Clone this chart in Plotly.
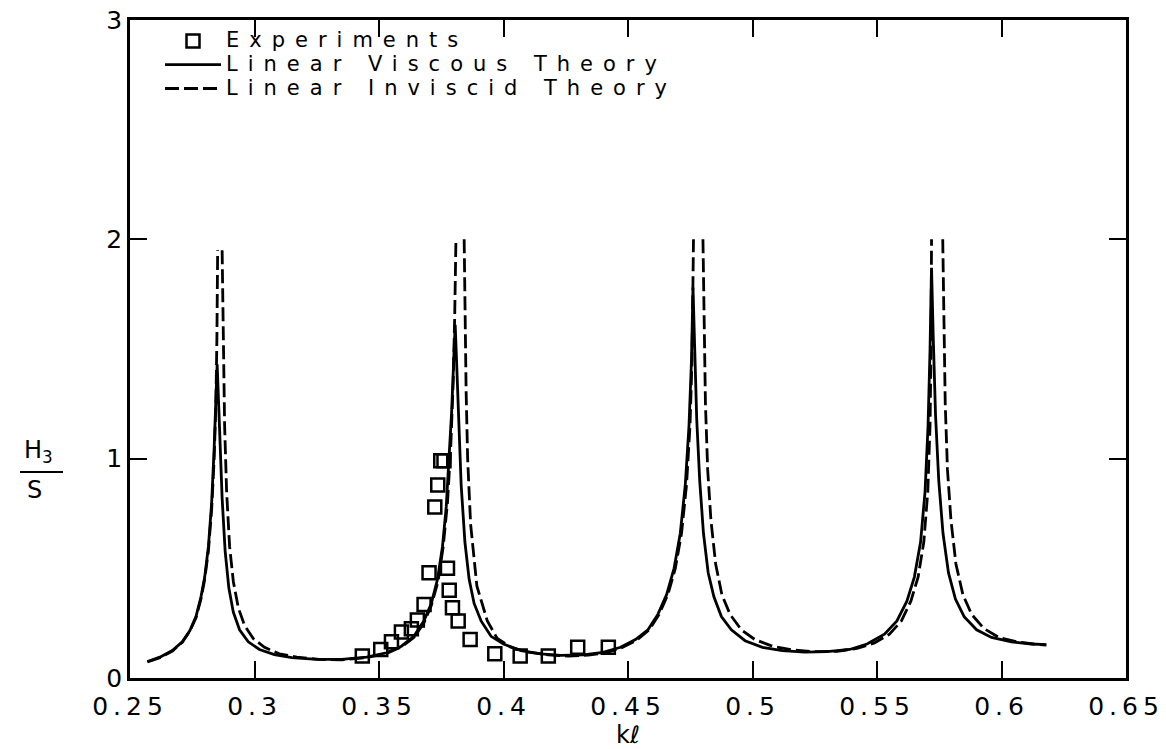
import plotly.graph_objects as go

# Measured response H3/S versus kℓ
exp_k = [0.3433, 0.3507, 0.3550, 0.3590, 0.3630, 0.3654, 0.3681, 0.3701,
         0.3724, 0.3736, 0.3748, 0.3761, 0.3775, 0.3782, 0.3795, 0.3818,
         0.3866, 0.3965, 0.4067, 0.4180, 0.4298, 0.4421]
exp_h = [0.10, 0.13, 0.165, 0.21, 0.225, 0.265, 0.335, 0.48,
         0.78, 0.88, 0.99, 0.99, 0.50, 0.40, 0.32, 0.26,
         0.175, 0.11, 0.10, 0.10, 0.14, 0.14]

# Linear viscous theory
visc_k = [0.2570, 0.2620, 0.2670, 0.2710, 0.2740, 0.2765, 0.2785, 0.2800, 0.2815,
          0.2828, 0.2838, 0.2845, 0.2850, 0.2856, 0.2862, 0.2870, 0.2882, 0.2897,
          0.2915, 0.2940, 0.2975, 0.3020, 0.3080, 0.3150, 0.3250, 0.3350, 0.3450,
          0.3530, 0.3590, 0.3640, 0.3680, 0.3710, 0.3735, 0.3755, 0.3770, 0.3782,
          0.3792, 0.3800, 0.3806, 0.3813, 0.3820, 0.3830, 0.3845, 0.3862, 0.3882,
          0.3910, 0.3950, 0.4000, 0.4070, 0.4150, 0.4230, 0.4320, 0.4400, 0.4470,
          0.4530, 0.4580, 0.4620, 0.4655, 0.4685, 0.4710, 0.4730, 0.4745, 0.4755,
          0.4761, 0.4768, 0.4776, 0.4788, 0.4803, 0.4822, 0.4845, 0.4875, 0.4915,
          0.4970, 0.5040, 0.5120, 0.5210, 0.5300, 0.5390, 0.5460, 0.5530, 0.5580,
          0.5620, 0.5650, 0.5675, 0.5693, 0.5705, 0.5713, 0.5719, 0.5726, 0.5735,
          0.5748, 0.5765, 0.5787, 0.5815, 0.5850, 0.5900, 0.5960, 0.6040, 0.6120,
          0.6180]
visc_h = [0.075, 0.095, 0.125, 0.165, 0.215, 0.28, 0.37, 0.46, 0.60,
          0.80, 1.05, 1.25, 1.43, 1.25, 1.05, 0.82, 0.58, 0.41,
          0.30, 0.22, 0.165, 0.13, 0.107, 0.093, 0.085, 0.085, 0.095,
          0.115, 0.145, 0.19, 0.26, 0.34, 0.45, 0.60, 0.78, 1.00,
          1.22, 1.45, 1.61, 1.40, 1.15, 0.88, 0.62, 0.45, 0.34,
          0.26, 0.19, 0.155, 0.125, 0.11, 0.103, 0.105, 0.117, 0.14,
          0.175, 0.22, 0.29, 0.38, 0.50, 0.66, 0.88, 1.15, 1.45,
          1.78, 1.50, 1.18, 0.90, 0.66, 0.48, 0.37, 0.28, 0.22,
          0.17, 0.14, 0.125, 0.118, 0.12, 0.13, 0.155, 0.20, 0.26,
          0.35, 0.46, 0.62, 0.85, 1.15, 1.50, 1.87, 1.55, 1.20,
          0.90, 0.66, 0.48, 0.36, 0.28, 0.22, 0.185, 0.165, 0.155,
          0.152]

# Linear inviscid theory (branches cut where they leave the plotted band at 2)
invis_k = [0.2570, 0.2620, 0.2670, 0.2710, 0.2740, 0.2765, 0.2785, 0.2800, 0.2815,
           0.2828, 0.2838, 0.2845, 0.2849, 0.2852, None,
           0.2870, 0.2874, 0.2880, 0.2888, 0.2900, 0.2915, 0.2935, 0.2960, 0.2995,
           0.3040, 0.3100, 0.3170, 0.3260, 0.3350, 0.3450, 0.3530, 0.3590, 0.3640,
           0.3680, 0.3710, 0.3737, 0.3758, 0.3775, 0.3788, 0.3798, 0.3804, 0.3809, None,
           0.3842, 0.3845, 0.3850, 0.3856, 0.3868, 0.3893, 0.3935, 0.3975, 0.4030,
           0.4100, 0.4180, 0.4260, 0.4340, 0.4410, 0.4475, 0.4535, 0.4585, 0.4625,
           0.4660, 0.4690, 0.4715, 0.4735, 0.4749, 0.4757, 0.4763, None,
           0.4801, 0.4805, 0.4811, 0.4820, 0.4833, 0.4852, 0.4877, 0.4910, 0.4955,
           0.5010, 0.5080, 0.5160, 0.5250, 0.5340, 0.5420, 0.5490, 0.5550, 0.5598,
           0.5636, 0.5665, 0.5688, 0.5704, 0.5713, 0.5717, 0.5719, None,
           0.5764, 0.5768, 0.5774, 0.5783, 0.5797, 0.5817, 0.5845, 0.5880, 0.5930,
           0.5990, 0.6060, 0.6130, 0.6180]
invis_h = [0.073, 0.093, 0.123, 0.163, 0.213, 0.275, 0.36, 0.45, 0.58,
           0.77, 1.00, 1.25, 1.55, 1.95, None,
           1.95, 1.55, 1.15, 0.85, 0.60, 0.44, 0.32, 0.24, 0.18,
           0.14, 0.11, 0.095, 0.085, 0.083, 0.093, 0.112, 0.142, 0.185,
           0.25, 0.33, 0.44, 0.60, 0.80, 1.05, 1.35, 1.65, 2.00, None,
           2.00, 1.60, 1.30, 1.00, 0.70, 0.42, 0.26, 0.18, 0.14,
           0.118, 0.105, 0.100, 0.104, 0.115, 0.138, 0.172, 0.22, 0.29,
           0.38, 0.50, 0.66, 0.88, 1.15, 1.45, 2.00, None,
           2.00, 1.60, 1.25, 0.95, 0.72, 0.52, 0.38, 0.29, 0.22,
           0.175, 0.145, 0.128, 0.12, 0.122, 0.135, 0.16, 0.20, 0.26,
           0.35, 0.46, 0.62, 0.85, 1.15, 1.50, 2.00, None,
           2.00, 1.60, 1.25, 0.95, 0.72, 0.52, 0.38, 0.29, 0.225,
           0.185, 0.165, 0.155, 0.15]

x_ticks = [0.25, 0.3, 0.35, 0.4, 0.45, 0.5, 0.55, 0.6, 0.65]
x_tick_text = ["0.25", "0.3", "0.35", "0.4", "0.45", "0.5", "0.55", "0.6", "0.65"]
y_ticks = [0, 1, 2, 3]
y_tick_text = ["0", "1", "2", "3"]

FONT = "DejaVu Sans"
INK = "black"

# plot-area geometry in pixels, used to place the fraction label and legend
L, R, T, B = 130, 40, 20, 71
W, H = 1166, 749
PW, PH = W - L - R, H - T - B


def px_x(x):
    return (x - L) / PW


def px_y(y):
    return (H - B - y) / PH


def spaced(s, px=4, size=None):
    style = f"letter-spacing:{px}px"
    if size:
        style += f";font-size:{size}px"
    return f'<span style="{style}">{s}</span>'


fig = go.Figure()

fig.add_trace(go.Scatter(
    x=exp_k, y=exp_h, mode="markers", name=spaced("Experiments", 10, 21),
    marker=dict(symbol="square-open", size=13, color=INK, line=dict(width=2.5, color=INK)),
))
fig.add_trace(go.Scatter(
    x=visc_k, y=visc_h, mode="lines", name=spaced("Linear Viscous Theory", 10, 21),
    line=dict(color=INK, width=2.8),
))
fig.add_trace(go.Scatter(
    x=invis_k, y=invis_h, mode="lines", name=spaced("Linear Inviscid Theory", 10, 21),
    line=dict(color=INK, width=2.8, dash="14px,5px"), connectgaps=False,
))

axis_common = dict(
    showgrid=False, zeroline=False, showline=True, linecolor=INK, linewidth=2.8,
    mirror="ticks", ticks="inside", ticklen=17, tickwidth=2.2, tickcolor=INK,
    tickfont=dict(family=FONT, size=25, color=INK), automargin=False,
)

fig.update_xaxes(
    range=[0.25, 0.65], tickvals=x_ticks,
    ticktext=[spaced(t, 5) for t in x_tick_text],
    ticklabelstandoff=4,
    title=dict(text="kℓ", font=dict(family=FONT, size=24, color=INK), standoff=12),
    **axis_common,
)
fig.update_yaxes(
    range=[0, 3], tickvals=y_ticks, ticktext=y_tick_text,
    **axis_common,
)

# Fraction-style y-axis label H3 / S
fig.add_annotation(text="H<sub>3</sub>", xref="paper", yref="paper",
                   x=px_x(22), y=px_y(469), xanchor="left", yanchor="bottom",
                   showarrow=False, font=dict(family=FONT, size=24, color=INK))
fig.add_annotation(text="S", xref="paper", yref="paper",
                   x=px_x(25), y=px_y(474), xanchor="left", yanchor="top",
                   showarrow=False, font=dict(family=FONT, size=24, color=INK))
fig.add_shape(type="line", xref="paper", yref="paper",
              x0=px_x(20), x1=px_x(63), y0=px_y(472), y1=px_y(472),
              line=dict(color=INK, width=2))

fig.update_layout(
    width=W, height=H,
    margin=dict(l=L, r=R, t=T, b=B),
    paper_bgcolor="white", plot_bgcolor="white",
    showlegend=True,
    legend=dict(x=px_x(160), y=px_y(24), xanchor="left", yanchor="top",
                bgcolor="rgba(0,0,0,0)", font=dict(family=FONT, size=16, color=INK),
                itemwidth=56, tracegroupgap=0),
)

fig.write_html("out.html")
